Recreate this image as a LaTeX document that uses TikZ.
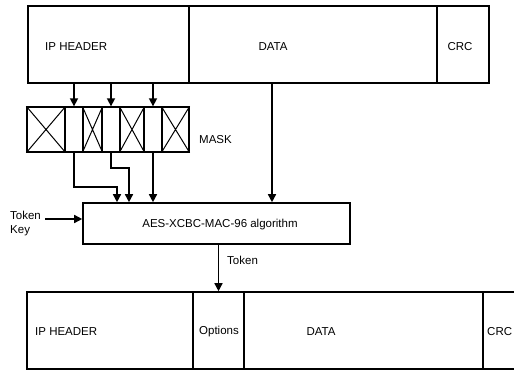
\documentclass[tikz,border=0pt]{standalone}
\usepackage{fontspec}
\setmainfont{Liberation Sans}
\usetikzlibrary{arrows.meta}
\begin{document}
\begin{tikzpicture}[x=1pt,y=-1pt,
  seg/.style={draw,line width=1.6pt,inner sep=0pt},
  cell/.style={draw,line width=1.3pt,inner sep=0pt,minimum height=45pt},
  txt/.style={inner sep=0pt,font=\fontsize{11.5}{13}\selectfont},
  arr/.style={line width=1.5pt,-{Triangle[length=8pt,width=8pt]}}]
\useasboundingbox (0,0) rectangle (514,370);
\clip (0,0) rectangle (514,370);
% top packet
\node[seg,minimum width=161pt,minimum height=77pt] (hdr) at (108.5,44.5) {};
\node[seg,minimum width=248pt,minimum height=77pt] (data) at (313,44.5) {};
\node[seg,minimum width=52pt,minimum height=77pt] (crc) at (463,44.5) {};
\node[txt,anchor=west] (thdr) at (45,47) {IP HEADER};
\node[txt] (tdata) at (273,47) {DATA};
\node[txt] (tcrc) at (460,47) {CRC};
% mask
\foreach \n/\a/\b/\x in {m1/27/65/1,m2/65/83/0,m3/83/102/1,m4/102/120/0,m5/120/144/1,m6/144/162/0,m7/162/189/1}{
  \node[cell,minimum width={\b-\a}] (\n) at ({(\a+\b)/2},129.5) {};
  \ifnum\x=1
    \draw[line width=1pt] (\n.north west) -- (\n.south east) (\n.south west) -- (\n.north east);
  \fi
}
\node[txt,anchor=west] (mask) at (199,140) {MASK};
% algorithm
\node[seg,minimum width=267pt,minimum height=41pt] (aes) at (216.5,223.5) {};
\node[txt] (taes) at (220,225) {AES-XCBC-MAC-96 algorithm};
\node[txt,anchor=west] (tok) at (10,215) {Token};
\node[txt,anchor=west] (key) at (10,231) {Key};
\coordinate (kstart) at (45,219);
\draw[arr] (kstart) -- (kstart -| aes.west);
% bottom packet
\node[seg,minimum width=166pt,minimum height=77pt] (bhdr) at (110,330.5) {};
\node[seg,minimum width=51pt,minimum height=77pt] (bopt) at (218.5,330.5) {};
\node[seg,minimum width=239pt,minimum height=77pt] (bdata) at (363.5,330.5) {};
\node[seg,minimum width=50pt,minimum height=77pt] (bcrc) at (508,330.5) {};
\node[txt,anchor=west] (tbhdr) at (35,332) {IP HEADER};
\node[txt] (tbopt) at (219,332) {Options};
\node[txt] (tbdata) at (321,332) {DATA};
\node[txt,anchor=west] (tbcrc) at (487,332) {CRC};
% connectors
\draw[arr] (m2.north |- hdr.south) -- (m2.north);
\draw[arr] (m4.north |- hdr.south) -- (m4.north);
\draw[arr] (m6.north |- hdr.south) -- (m6.north);
\draw[arr] (m2.south) -- (74,187) -- (117,187) -- (117,0 |- aes.north);
\draw[arr] (m4.south) -- (111,168) -- (129,168) -- (129,0 |- aes.north);
\draw[arr] (m6.south) -- (m6.south |- aes.north);
\draw[arr] (272,0 |- data.south) -- (272,0 |- aes.north);
\draw[arr] (bopt.north |- aes.south) -- (bopt.north);
\node[txt,anchor=west] (ttok) at (227,260) {Token};
\end{tikzpicture}
\end{document}
